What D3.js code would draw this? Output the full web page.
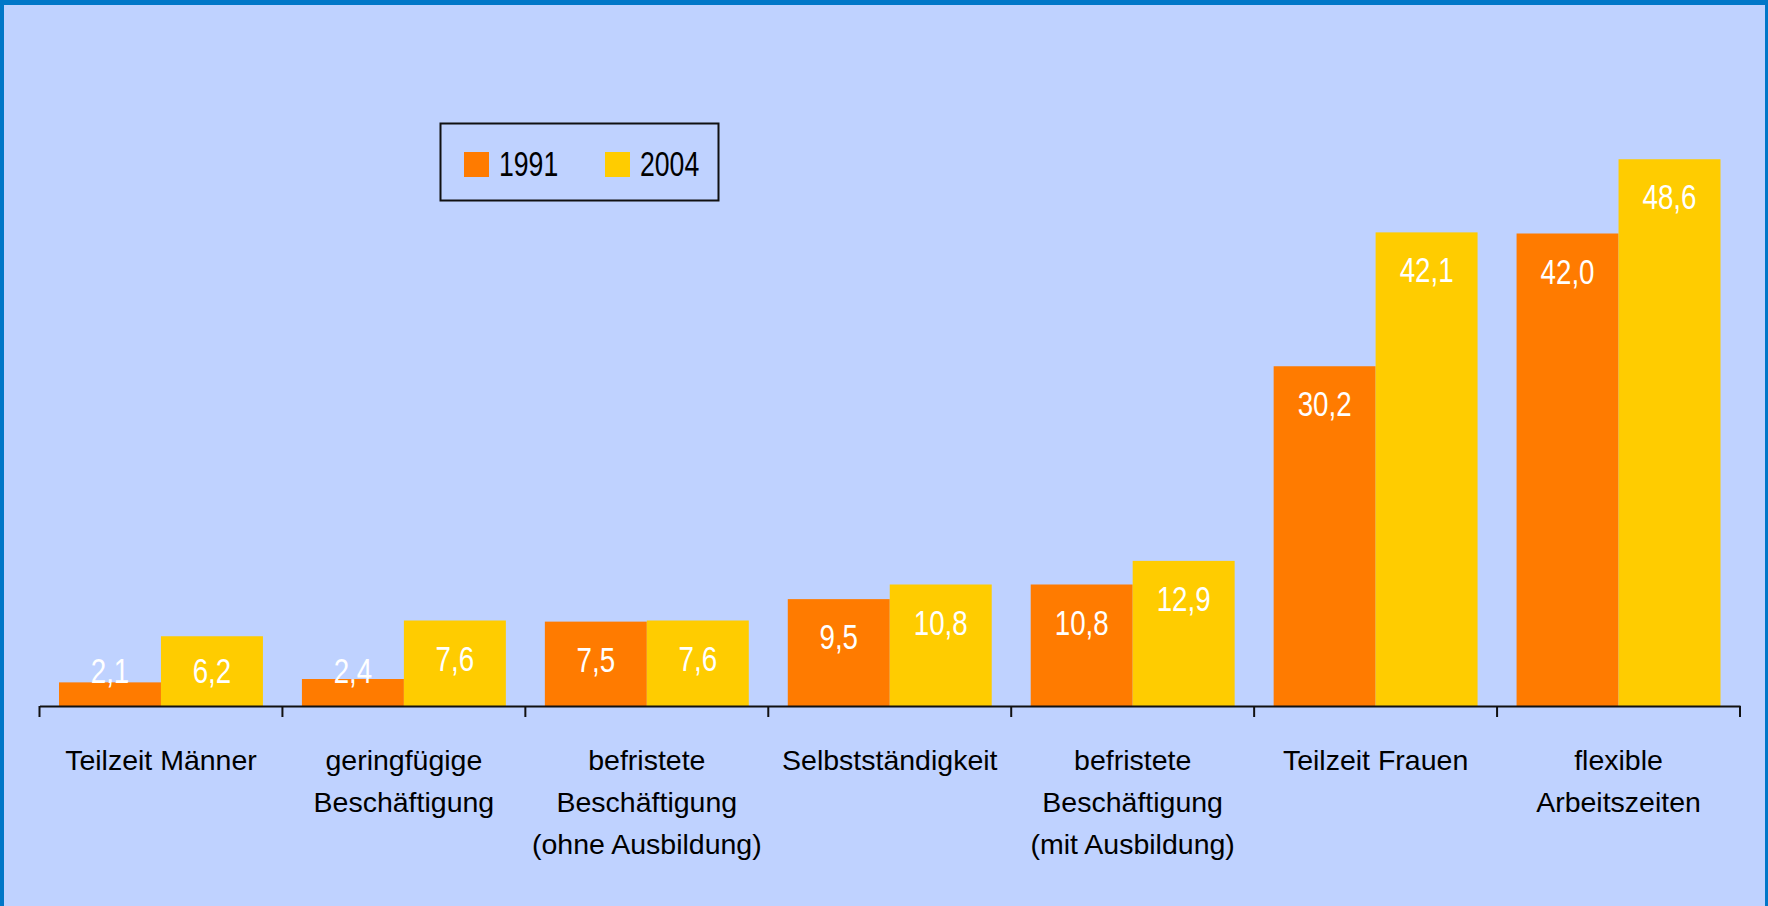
<html>
<head>
<meta charset="utf-8">
<script src="https://cdn.jsdelivr.net/npm/d3@7"></script>
<style>
  body { margin: 0; background: #fff; }
  svg { display: block; font-family: "Liberation Sans", Arial, sans-serif; }
  .cat { font-size: 28.5px; fill: #000; }
  .val { font-size: 36px; fill: #fff; }
  .leg { font-size: 36px; fill: #000; }
</style>
</head>
<body>
<div id="chart"></div>
<script>
// categories, one per group (line breaks as in the picture)
var categories = [
  "Teilzeit Männer",
  "geringfügige\nBeschäftigung",
  "befristete\nBeschäftigung\n(ohne Ausbildung)",
  "Selbstständigkeit",
  "befristete\nBeschäftigung\n(mit Ausbildung)",
  "Teilzeit Frauen",
  "flexible\nArbeitszeiten"
];
var seriesNames = ["1991", "2004"];
var values1991 = [2.1, 2.4, 7.5, 9.5, 10.8, 30.2, 42.0];
var values2004 = [6.2, 7.6, 7.6, 10.8, 12.9, 42.1, 48.6];

var width = 1768, height = 906;
var colors = ["#FF7B00", "#FFCC00"];
var base = 706;

var rows = categories.map(function(c, i) {
  return {cat: c, vals: [values1991[i], values2004[i]]};
});

var svg = d3.select("#chart").append("svg")
  .attr("width", width)
  .attr("height", height);

// background + frame
svg.append("rect").attr("width", width).attr("height", height).attr("fill", "#0077C8");
svg.append("rect").attr("x", 4).attr("y", 5).attr("width", width - 7).attr("height", height - 5).attr("fill", "#BFD2FF");

var x0 = d3.scaleBand().domain(categories).range([39.5, 1740]).padding(0);
var x1 = d3.scaleBand().domain(seriesNames).range([19.5, x0.bandwidth() - 19.5]).padding(0);
var y = d3.scaleLinear().domain([0, 60]).range([base, base - 675]);

var fmt = function(v) { return d3.format(".1f")(v).replace(".", ","); };

var groups = svg.selectAll(".grp").data(rows).enter()
  .append("g")
  .attr("class", "grp")
  .attr("transform", d => "translate(" + x0(d.cat) + ",0)");

var bars = groups.selectAll(".bar")
  .data(d => d.vals.map((v, j) => ({s: seriesNames[j], v: v, j: j})))
  .enter();

bars.append("rect")
  .attr("x", d => x1(d.s))
  .attr("y", d => y(d.v))
  .attr("width", x1.bandwidth())
  .attr("height", d => base - y(d.v))
  .attr("fill", d => colors[d.j]);

bars.append("text")
  .attr("class", "val")
  .attr("text-anchor", "middle")
  .attr("transform", function(d) {
    var ly = Math.min(y(d.v) + 50, base - 23);
    return "translate(" + (x1(d.s) + x1.bandwidth() / 2) + "," + ly + ") scale(0.77,1)";
  })
  .text(d => fmt(d.v));

// axis
var xAxis = d3.axisBottom(x0).tickSize(0).tickFormat("");
var ax = svg.append("g")
  .attr("transform", "translate(0," + base + ")")
  .call(xAxis);
ax.select(".domain").attr("stroke", "#111").attr("stroke-width", 2);

// ticks between groups
var edges = categories.map(c => x0(c)).concat([x0.range()[1]]);
svg.selectAll(".sep").data(edges).enter()
  .append("line")
  .attr("x1", d => d).attr("x2", d => d)
  .attr("y1", base).attr("y2", base + 11)
  .attr("stroke", "#111").attr("stroke-width", 2);

// category labels
svg.selectAll(".cat").data(categories).enter()
  .append("text")
  .attr("class", "cat")
  .attr("text-anchor", "middle")
  .attr("x", d => x0(d) + x0.bandwidth() / 2)
  .attr("y", 769.5)
  .selectAll("tspan")
  .data(d => d.split("\n"))
  .enter().append("tspan")
  .attr("x", function() { return d3.select(this.parentNode).attr("x"); })
  .attr("dy", (d, i) => i === 0 ? 0 : 42)
  .text(d => d);

// legend
var leg = svg.append("g");
leg.append("rect")
  .attr("x", 440.5).attr("y", 123.5).attr("width", 278).attr("height", 77)
  .attr("fill", "none").attr("stroke", "#111").attr("stroke-width", 2);
var legX = [464, 605];
seriesNames.forEach(function(s, i) {
  leg.append("rect").attr("x", legX[i]).attr("y", 152).attr("width", 25).attr("height", 25).attr("fill", colors[i]);
  leg.append("text").attr("class", "leg")
    .attr("transform", "translate(" + (legX[i] + 35) + ",176) scale(0.74,1)")
    .text(s);
});
</script>
</body>
</html>
